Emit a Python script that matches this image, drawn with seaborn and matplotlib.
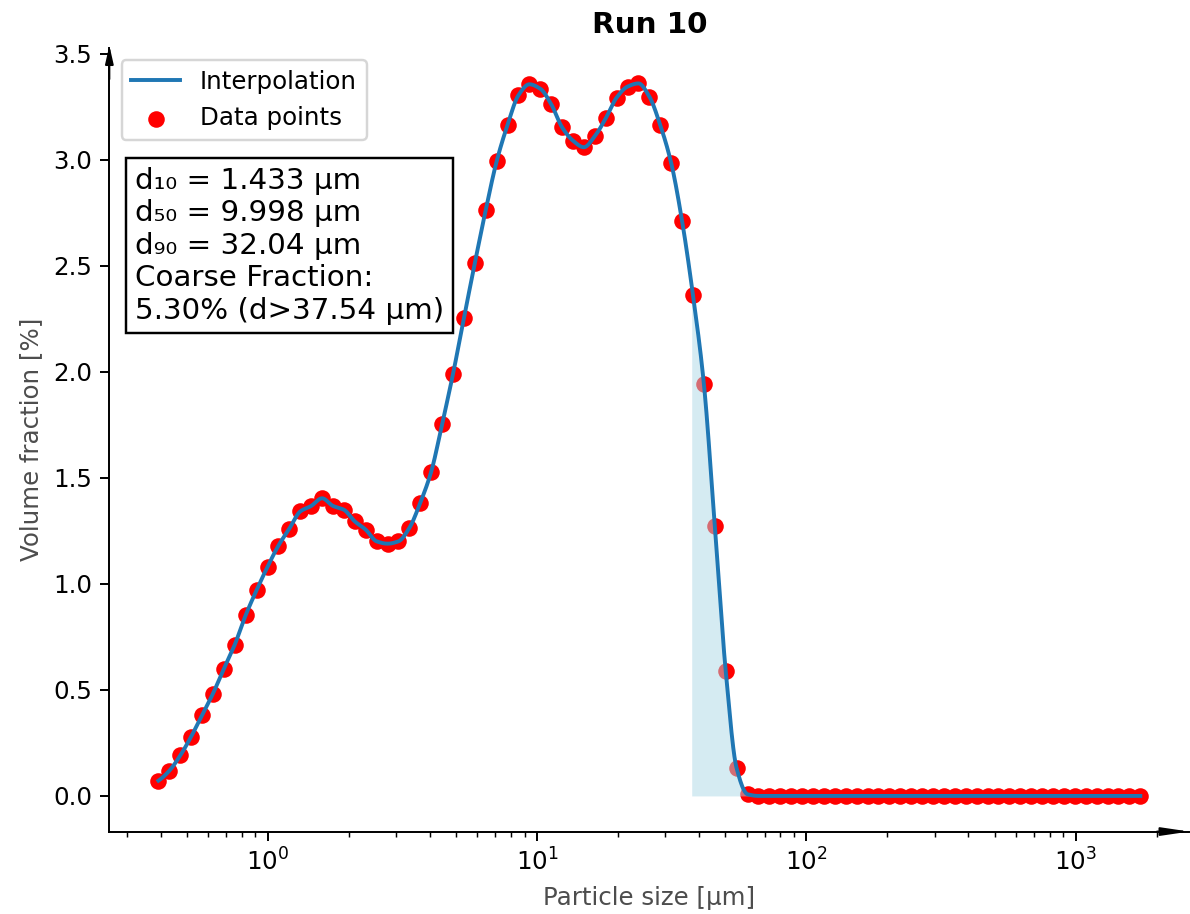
import numpy as np
import pandas as pd
import matplotlib
matplotlib.use("Agg")
import matplotlib.pyplot as plt
import seaborn as sns

# ---- data ----
title = "Run 10"
sizes_um = [0.3929, 0.4313, 0.4735, 0.5197, 0.5705, 0.6263, 0.6875, 0.7547, 0.8285, 0.9095,
            0.9986, 1.0962, 1.2033, 1.3210, 1.4501, 1.5918, 1.7474, 1.9182, 2.1057, 2.3115,
            2.5375, 2.7861, 3.0583, 3.3572, 3.6854, 4.0456, 4.4411, 4.8752, 5.3518, 5.8749,
            6.4491, 7.0795, 7.7715, 8.5312, 9.3652, 10.28, 11.29, 12.39, 13.60, 14.93,
            16.39, 17.99, 19.75, 21.69, 23.81, 26.13, 28.69, 31.49, 34.57, 37.95,
            41.66, 45.73, 50.20, 55.11, 60.50, 66.41, 72.90, 80.03, 87.85, 96.44,
            105.9, 116.2, 127.6, 140.1, 153.8, 168.8, 185.3, 203.4, 223.3, 245.1,
            269.1, 295.4, 324.3, 356.0, 390.8, 429.0, 470.9, 516.9, 567.5, 623.0,
            683.9, 750.7, 824.1, 904.7, 993.4, 1090.0, 1197.0, 1314.0, 1442.0, 1584.0,
            1739.0]
volume_pct = [0.072, 0.119, 0.191, 0.280, 0.381, 0.483, 0.600, 0.714, 0.853, 0.971,
              1.081, 1.181, 1.261, 1.342, 1.368, 1.404, 1.368, 1.350, 1.295, 1.256,
              1.201, 1.190, 1.201, 1.264, 1.383, 1.529, 1.753, 1.990, 2.253, 2.513,
              2.763, 2.993, 3.165, 3.305, 3.357, 3.336, 3.263, 3.154, 3.091, 3.060,
              3.112, 3.196, 3.294, 3.346, 3.361, 3.299, 3.164, 2.986, 2.712, 2.362,
              1.943, 1.275, 0.590, 0.131, 0.008, 0.0, 0.0, 0.0, 0.0, 0.0,
              0.0, 0.0, 0.0, 0.0, 0.0, 0.0, 0.0, 0.0, 0.0, 0.0,
              0.0, 0.0, 0.0, 0.0, 0.0, 0.0, 0.0, 0.0, 0.0, 0.0,
              0.0, 0.0, 0.0, 0.0, 0.0, 0.0, 0.0, 0.0, 0.0, 0.0,
              0.0]
d10, d50, d90 = 1.433, 9.998, 32.04
coarse_pct, coarse_cut = 5.30, 37.54
stats_text = (f"d\u2081\u2080 = {d10:.3f} \u00b5m\n"
              f"d\u2085\u2080 = {d50:.3f} \u00b5m\n"
              f"d\u2089\u2080 = {d90:.2f} \u00b5m\n"
              f"Coarse Fraction:\n"
              f"{coarse_pct:.2f}% (d>{coarse_cut:.2f} \u00b5m)")

df = pd.DataFrame({"size": sizes_um, "vol": volume_pct})


# ---- monotone cubic (PCHIP) interpolation in log-size ----
def pchip(t, y, tt):
    t = np.asarray(t, float); y = np.asarray(y, float)
    h = np.diff(t); delta = np.diff(y) / h
    n = len(t); d = np.zeros(n)
    for k in range(1, n - 1):
        if delta[k - 1] * delta[k] > 0:
            w1 = 2 * h[k] + h[k - 1]; w2 = h[k] + 2 * h[k - 1]
            d[k] = (w1 + w2) / (w1 / delta[k - 1] + w2 / delta[k])

    def end(h0, h1, d0, d1):
        v = ((2 * h0 + h1) * d0 - h0 * d1) / (h0 + h1)
        if np.sign(v) != np.sign(d0):
            v = 0.0
        elif np.sign(d0) != np.sign(d1) and abs(v) > 3 * abs(d0):
            v = 3 * d0
        return v
    d[0] = end(h[0], h[1], delta[0], delta[1])
    d[-1] = end(h[-1], h[-2], delta[-1], delta[-2])
    idx = np.clip(np.searchsorted(t, tt) - 1, 0, n - 2)
    s = (tt - t[idx]) / h[idx]
    hk = h[idx]
    h00 = 2 * s**3 - 3 * s**2 + 1
    h10 = s**3 - 2 * s**2 + s
    h01 = -2 * s**3 + 3 * s**2
    h11 = s**3 - s**2
    return h00 * y[idx] + h10 * hk * d[idx] + h01 * y[idx + 1] + h11 * hk * d[idx + 1]


logx = np.log10(df["size"].values)
tt = np.sort(np.append(np.linspace(logx[0], logx[-1], 4000), np.log10(coarse_cut)))
xx = 10 ** tt
yy = pchip(logx, df["vol"].values, tt)
curve = pd.DataFrame({"size": xx, "vol": yy})

# ---- figure ----
DPI = 176
plt.rcParams["font.family"] = ["DejaVu Sans"]
fig = plt.figure(figsize=(1190 / DPI, 914 / DPI), dpi=DPI)
ax = fig.add_axes([0.0919, 0.0902, 0.9995 - 0.0919, 0.9477 - 0.0902])
ax.set_xscale("log")

sns.scatterplot(data=df, x="size", y="vol", ax=ax, color="red", s=46,
                linewidth=0, label="Data points")
ax.fill_between(curve["size"], curve["vol"], 0, where=curve["size"] >= coarse_cut,
                color="lightblue", alpha=0.5, linewidth=0)
sns.lineplot(data=curve, x="size", y="vol", ax=ax, color="#1f77b4", linewidth=1.6,
             label="Interpolation", sort=False, estimator=None)

handles, labels = ax.get_legend_handles_labels()
order = [labels.index("Interpolation"), labels.index("Data points")]
ax.legend([handles[i] for i in order], [labels[i] for i in order], loc="upper left")

ax.set_title(title, fontweight="bold", fontsize=12)
ax.set_xlabel("Particle size [\u00b5m]", color="0.3")
ax.set_ylabel("Volume fraction [%]", color="0.3")

ax.spines["top"].set_visible(False)
ax.spines["right"].set_visible(False)

ax.text(0.024, 0.848, stats_text, transform=ax.transAxes, fontsize=12,
        va="top", ha="left",
        bbox=dict(boxstyle="square", facecolor="white", edgecolor="black"))

# axis arrows
ax.annotate("", xy=(1, 0), xytext=(0.97, 0), xycoords="axes fraction",
            textcoords="axes fraction", annotation_clip=False,
            arrowprops=dict(arrowstyle="-|>,head_length=0.95,head_width=0.14",
                            color="black", lw=0.8, shrinkA=0, shrinkB=0,
                            mutation_scale=10))
ax.annotate("", xy=(0, 1.003), xytext=(0, 0.96), xycoords="axes fraction",
            textcoords="axes fraction", annotation_clip=False,
            arrowprops=dict(arrowstyle="-|>,head_length=0.62,head_width=0.14",
                            color="black", lw=0.8, shrinkA=0, shrinkB=0,
                            mutation_scale=10))

fig.savefig("out.png", dpi=DPI)
